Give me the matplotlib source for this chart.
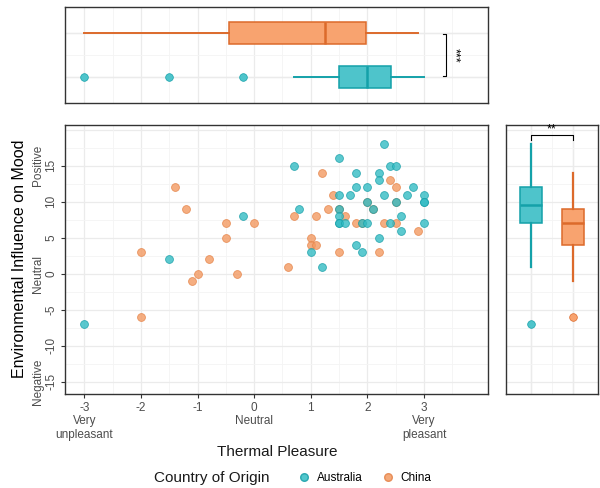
import matplotlib
matplotlib.use('Agg')
import matplotlib.pyplot as plt
from matplotlib.lines import Line2D

plt.rcParams['font.family'] = ['Liberation Sans', 'DejaVu Sans']

# ---------------- data ----------------
aus_x = [2.3, 1.5, 0.7, 2.4, 2.5, 1.8, 2.2, 2.2, 1.8, 2.0, 2.8, 1.5, 1.7, 2.3, 2.7,
         3.0, 3.0, 3.0, 2.5, 2.0, 0.8, 1.5, 2.1, 1.5, 2.6, 1.5, 1.5, 1.6, 1.9, 2.0,
         2.4, 3.0, 2.6, 2.2, 1.8, 1.0, 1.9, 1.2, -0.2, -1.5, -3.0]
aus_y = [18, 16, 15, 15, 15, 14, 14, 13, 12, 12, 12, 11, 11, 11, 11,
         11, 10, 10, 10, 10, 9, 9, 9, 8, 8, 7, 7, 7, 7, 7,
         7, 7, 6, 5, 4, 3, 3, 1, 8, 2, -7]
chn_x = [1.2, 2.4, 2.5, 1.4, 2.5, 2.0, 1.3, 1.5, 2.1, 0.7, 1.1, 1.6, 0.0, 1.8, 1.9,
         2.3, 2.5, 2.9, -0.5, 1.0, 1.0, 1.1, 1.5, 2.2, 0.6, -1.4, -1.2, -0.5, -2.0,
         -0.8, -1.0, -1.1, -0.3, -2.0]
chn_y = [14, 13, 12, 11, 10, 10, 9, 9, 9, 8, 8, 8, 7, 7, 7,
         7, 7, 6, 7, 5, 4, 4, 3, 3, 1, 12, 9, 5, 3,
         2, 0, -1, 0, -6]

# box statistics
aus_pleasure_stats = dict(whislo=0.7, q1=1.5, med=2.0, q3=2.42, whishi=3.0, fliers=[-3.0, -1.5, -0.2])
chn_pleasure_stats = dict(whislo=-3.0, q1=-0.45, med=1.25, q3=1.98, whishi=2.9, fliers=[])
aus_mood_stats = dict(whislo=1, q1=7, med=9.5, q3=12, whishi=18, fliers=[-7])
chn_mood_stats = dict(whislo=-1, q1=4, med=7, q3=9, whishi=14, fliers=[-6])

x_ticks = [-3, -2, -1, 0, 1, 2, 3]
x_labels = ["-3\nVery\nunpleasant", "-2", "-1", "0\nNeutral", "1", "2", "3\nVery\npleasant"]
y_ticks = [-15, -10, -5, 0, 5, 10, 15]
y_labels = ["Negative\n-15", "-10", "-5", "Neutral\n0", "5", "10", "Positive\n15"]

groups = ["Australia", "China"]

# ---------------- style ----------------
teal_pt = '#33BCC4'
teal_pt_edge = '#189FA8'
orange_pt = '#F39A62'
orange_pt_edge = '#E58348'
teal_fill = '#4EC4CB'
teal_edge = '#14A1A9'
orange_fill = '#F8A36F'
orange_edge = '#DC6A2B'
border = '#333333'
grid_major = '#EBEBEB'
grid_minor = '#F4F4F4'
tick_col = '#4D4D4D'

fig = plt.figure(figsize=(6, 4.88), dpi=100)
W, H = 600, 488

def rect(l, t, r, b):
    return [l / W, (H - b) / H, (r - l) / W, (b - t) / H]

ax = fig.add_axes(rect(65, 125, 488, 394))
ax_top = fig.add_axes(rect(65, 7, 488, 103))
ax_r = fig.add_axes(rect(506, 125, 598, 394))

xlim = (-3.34, 4.13)
ylim = (-16.7, 20.65)

def style(a):
    for s in a.spines.values():
        s.set_color(border)
        s.set_linewidth(1.0)
    a.set_axisbelow(True)

# ---------------- main scatter ----------------
style(ax)
ax.set_xlim(*xlim)
ax.set_ylim(*ylim)
ax.set_xticks(x_ticks)
ax.set_xticklabels(x_labels, multialignment='center')
ax.set_yticks(y_ticks)
ax.set_yticklabels(y_labels, rotation=90, va='center', ha='right', multialignment='center')
ax.set_xticks([-2.5, -1.5, -0.5, 0.5, 1.5, 2.5, 3.5], minor=True)
ax.set_yticks([17.5, 12.5, 7.5, 2.5, -2.5, -7.5, -12.5], minor=True)
ax.tick_params(which='major', length=3, color=border, labelcolor=tick_col, labelsize=8.5, pad=2.5)
ax.tick_params(which='minor', length=0)
ax.grid(True, which='major', color=grid_major, lw=0.9)
ax.grid(True, which='minor', color=grid_minor, lw=0.6)
ax.axhline(20, color=grid_major, lw=0.9, zorder=0)

ax.scatter(chn_x, chn_y, s=32, color=orange_pt, edgecolors=orange_pt_edge, linewidths=0.6, alpha=0.8, zorder=3)
ax.scatter(aus_x, aus_y, s=32, color=teal_pt, edgecolors=teal_pt_edge, linewidths=0.6, alpha=0.8, zorder=3)

# ---------------- top marginal boxplot ----------------
style(ax_top)
ax_top.set_xlim(*xlim)
ax_top.set_ylim(0.4, 2.6)
ax_top.set_xticks(x_ticks)
ax_top.set_xticks([-2.5, -1.5, -0.5, 0.5, 1.5, 2.5, 3.5], minor=True)
ax_top.set_yticks([1, 2])
ax_top.set_yticks([1.5], minor=True)
ax_top.tick_params(which='both', length=0, labelbottom=False, labelleft=False)
ax_top.grid(True, which='major', color=grid_major, lw=0.9)
ax_top.grid(True, which='minor', color=grid_minor, lw=0.6)

for stats, pos, fc, ec in [(aus_pleasure_stats, 1, teal_fill, teal_edge),
                           (chn_pleasure_stats, 2, orange_fill, orange_edge)]:
    ax_top.bxp([stats], positions=[pos], widths=0.5, orientation='horizontal',
               patch_artist=True, showcaps=False,
               boxprops=dict(facecolor=fc, edgecolor=ec, linewidth=1.1),
               medianprops=dict(color=ec, linewidth=1.8),
               whiskerprops=dict(color=ec, linewidth=1.4),
               flierprops=dict(marker='o', markerfacecolor=fc, markeredgecolor=ec,
                               markersize=5.5, markeredgewidth=0.5))

ax_top.plot([3.33, 3.39, 3.39, 3.33], [1.98, 1.98, 1.02, 1.02], color='black', lw=0.8, clip_on=False)
ax_top.text(3.53, 1.5, '***', rotation=-90, ha='center', va='center', fontsize=9)

# ---------------- right marginal boxplot ----------------
style(ax_r)
ax_r.set_xlim(0.4, 2.6)
ax_r.set_ylim(*ylim)
ax_r.set_xticks([1, 2])
ax_r.set_xticks([1.5], minor=True)
ax_r.set_yticks(y_ticks)
ax_r.set_yticks([17.5, 12.5, 7.5, 2.5, -2.5, -7.5, -12.5], minor=True)
ax_r.tick_params(which='both', length=0, labelbottom=False, labelleft=False)
ax_r.grid(True, which='major', color=grid_major, lw=0.9)
ax_r.grid(True, which='minor', color=grid_minor, lw=0.6)
ax_r.axhline(20, color=grid_major, lw=0.9, zorder=0)

for stats, pos, fc, ec in [(aus_mood_stats, 1, teal_fill, teal_edge),
                           (chn_mood_stats, 2, orange_fill, orange_edge)]:
    ax_r.bxp([stats], positions=[pos], widths=0.54, orientation='vertical',
             patch_artist=True, showcaps=False,
             boxprops=dict(facecolor=fc, edgecolor=ec, linewidth=1.1),
             medianprops=dict(color=ec, linewidth=1.8),
             whiskerprops=dict(color=ec, linewidth=1.6),
             flierprops=dict(marker='o', markerfacecolor=fc, markeredgecolor=ec,
                             markersize=5.5, markeredgewidth=0.5))

ax_r.plot([1, 1, 2, 2], [18.6, 19.2, 19.2, 18.6], color='black', lw=0.8)
ax_r.text(1.5, 19.25, '**', ha='center', va='bottom', fontsize=9)

# ---------------- titles & legend ----------------
fig.text(20 / W, (H - 259) / H, 'Environmental Influence on Mood', rotation=90,
         ha='center', va='center', fontsize=11.5, color='black')
fig.text(277 / W, (H - 452) / H, 'Thermal Pleasure', ha='center', va='center',
         fontsize=11, color='#1A1A1A')
fig.text(212 / W, (H - 478) / H, 'Country of Origin', ha='center', va='center',
         fontsize=11, color='#1A1A1A')

handles = [Line2D([], [], ls='none', marker='o', markersize=5.5, markerfacecolor=teal_pt,
                  markeredgecolor=teal_pt_edge, alpha=0.85),
           Line2D([], [], ls='none', marker='o', markersize=5.5, markerfacecolor=orange_pt,
                  markeredgecolor=orange_pt_edge, alpha=0.85)]
fig.legend(handles, groups, ncol=2, loc='center', bbox_to_anchor=(365 / W, (H - 478) / H),
           frameon=False, fontsize=8.5, handletextpad=0.6, columnspacing=1.6,
           handlelength=1.0, borderpad=0)

fig.savefig('out.png', dpi=100)
